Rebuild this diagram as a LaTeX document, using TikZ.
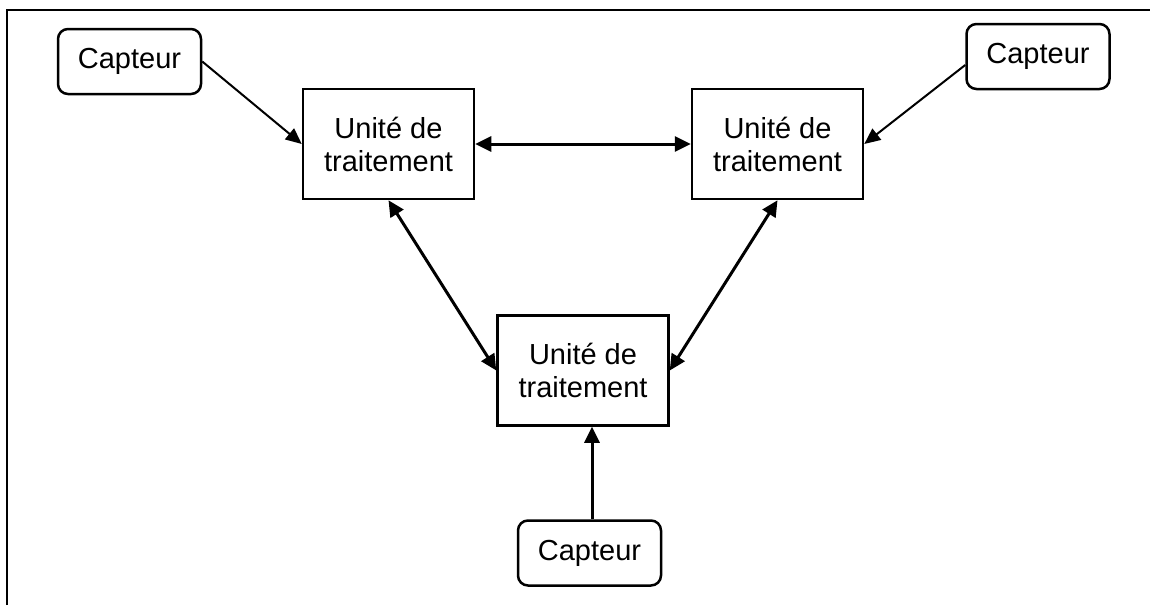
\documentclass[tikz,border=0pt]{standalone}
\usepackage{fontspec}
\setmainfont{Liberation Sans}
\usetikzlibrary{arrows.meta}
\begin{document}
\begin{tikzpicture}[x=1pt,y=-1pt,
  every node/.style={font=\fontsize{29}{33}\selectfont, inner sep=0pt, align=center},
  sensorbox/.style={draw, line width=2.5pt, rounded corners=10pt, minimum width=143pt, minimum height=65pt},
  unitbox/.style={draw, line width=2.5pt, minimum width=171pt, minimum height=110pt},
  feed/.style={line width=2pt, -{Triangle[length=16pt,width=14pt]}},
  link/.style={line width=3pt, {Triangle[length=16pt,width=15pt]}-{Triangle[length=16pt,width=15pt]}},
  uplink/.style={line width=3pt, -{Triangle[length=16pt,width=15pt]}}]
  \useasboundingbox (0,0) rectangle (1150,605);
  % partial frame: only the top and left edges fall inside the page
  \draw[line width=1.5pt] (7,605) -- (7,10) -- (1150,10);

  % sensors
  \node[sensorbox] (cTL) at (129.5,61.5) {Capteur};
  \node[sensorbox] (cTR) at (1038,56.5) {Capteur};
  \node[sensorbox] (cB) at (589.5,553) {Capteur};

  % processing units
  \node[unitbox] (uL) at (388.5,144) {Unité de\\traitement};
  \node[unitbox] (uR) at (777.5,144) {Unité de\\traitement};
  \node[unitbox] (uB) at (583,370.5) {Unité de\\traitement};

  % sensor inputs
  \draw[feed] (cTL.east) -- (uL.west);
  \draw[feed] ([yshift=-8.5pt]cTR.west) -- (uR.east);
  \draw[uplink] ([xshift=2.5pt]cB.north) -- ([xshift=2.5pt]cB.north |- uB.south);

  % links between units
  \draw[link] (uL.east) -- (uR.west);
  \draw[link] (uL.south) -- (uB.west);
  \draw[link] (uR.south) -- (uB.east);
\end{tikzpicture}
\end{document}
